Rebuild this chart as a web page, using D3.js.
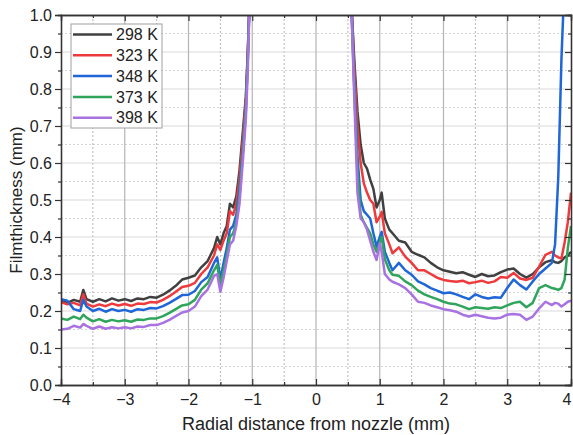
<!DOCTYPE html>
<html>
<head>
<meta charset="utf-8">
<script src="https://cdn.jsdelivr.net/npm/d3@7"></script>
<style>
  html, body { margin: 0; padding: 0; background: #fff; }
  svg { display: block; font-family: "Liberation Sans", Arial, sans-serif; }
  svg text { font-family: "Liberation Sans", Arial, sans-serif; }
</style>
</head>
<body>
<svg id="chart" width="573" height="435"></svg>
<script>
// ---------------- DATA ----------------
const seriesNames = ["298 K", "323 K", "348 K", "373 K", "398 K"];
const seriesColors = ["#404040", "#ee3a3c", "#1f66d8", "#2fa55c", "#a872e2"];

const xTicks = [-4, -3, -2, -1, 0, 1, 2, 3, 4];
const yTicks = [0.0, 0.1, 0.2, 0.3, 0.4, 0.5, 0.6, 0.7, 0.8, 0.9, 1.0];

// left branch (x < 0)
const xLeft = [-4.0,-3.9,-3.8,-3.7,-3.65,-3.6,-3.5,-3.4,-3.3,-3.2,-3.1,-3.0,-2.9,-2.8,-2.7,-2.6,-2.5,-2.4,-2.3,-2.2,-2.1,-2.0,-1.9,-1.8,-1.7,-1.6,-1.55,-1.5,-1.45,-1.4,-1.35,-1.3,-1.25,-1.2,-1.15,-1.1,-1.07,-1.04];
const k298Left = [0.228,0.222,0.230,0.225,0.257,0.232,0.225,0.232,0.226,0.234,0.228,0.232,0.227,0.234,0.232,0.238,0.236,0.244,0.255,0.268,0.285,0.290,0.296,0.318,0.335,0.37,0.40,0.38,0.41,0.43,0.49,0.48,0.51,0.58,0.68,0.78,0.9,1.05];
const k323Left = [0.224,0.218,0.222,0.215,0.245,0.220,0.212,0.218,0.213,0.220,0.215,0.219,0.214,0.220,0.219,0.224,0.223,0.230,0.240,0.252,0.265,0.268,0.276,0.300,0.318,0.35,0.38,0.365,0.39,0.41,0.47,0.46,0.49,0.56,0.66,0.77,0.9,1.05];
const k348Left = [0.232,0.228,0.205,0.200,0.230,0.212,0.200,0.206,0.198,0.205,0.200,0.203,0.198,0.205,0.203,0.208,0.207,0.213,0.222,0.232,0.243,0.244,0.254,0.278,0.292,0.33,0.345,0.285,0.33,0.37,0.42,0.43,0.46,0.53,0.63,0.75,0.88,1.05];
const k373Left = [0.180,0.176,0.185,0.178,0.190,0.182,0.172,0.178,0.171,0.176,0.172,0.175,0.171,0.177,0.176,0.180,0.180,0.186,0.195,0.205,0.215,0.218,0.230,0.258,0.275,0.31,0.325,0.27,0.31,0.35,0.40,0.41,0.44,0.51,0.62,0.74,0.88,1.05];
const k398Left = [0.150,0.152,0.160,0.155,0.165,0.160,0.152,0.158,0.152,0.156,0.153,0.156,0.153,0.158,0.157,0.162,0.162,0.168,0.176,0.186,0.196,0.200,0.212,0.240,0.258,0.295,0.30,0.252,0.29,0.335,0.38,0.39,0.43,0.49,0.60,0.72,0.85,1.05];

// right branch (x > 0)
const xRight = [0.55,0.6,0.65,0.7,0.75,0.8,0.85,0.9,0.95,1.0,1.03,1.08,1.15,1.2,1.3,1.4,1.5,1.6,1.7,1.8,1.9,2.0,2.1,2.2,2.3,2.4,2.5,2.6,2.7,2.8,2.9,3.0,3.1,3.2,3.3,3.4,3.5,3.6,3.7,3.75,3.8,3.85,3.9,3.95,4.0];
const k298Right = [1.05,0.88,0.74,0.65,0.60,0.585,0.555,0.53,0.48,0.50,0.52,0.45,0.42,0.41,0.39,0.385,0.36,0.352,0.345,0.33,0.318,0.31,0.306,0.302,0.305,0.298,0.292,0.300,0.294,0.296,0.305,0.312,0.315,0.300,0.29,0.30,0.318,0.332,0.337,0.332,0.33,0.335,0.345,0.35,0.36];
const k323Right = [1.05,0.86,0.70,0.60,0.545,0.52,0.50,0.49,0.44,0.455,0.468,0.41,0.38,0.356,0.372,0.347,0.33,0.31,0.31,0.30,0.29,0.284,0.281,0.279,0.282,0.275,0.278,0.282,0.276,0.28,0.292,0.29,0.303,0.288,0.284,0.29,0.32,0.352,0.36,0.35,0.345,0.342,0.385,0.44,0.52];
const k348Right = [1.05,0.82,0.62,0.50,0.47,0.46,0.45,0.41,0.374,0.40,0.414,0.36,0.33,0.31,0.33,0.31,0.298,0.28,0.272,0.262,0.255,0.248,0.25,0.245,0.238,0.232,0.245,0.238,0.234,0.237,0.236,0.262,0.285,0.27,0.258,0.28,0.30,0.315,0.33,0.38,0.56,0.88,1.1,1.2,1.3];
const k373Right = [1.05,0.80,0.58,0.46,0.44,0.425,0.41,0.38,0.36,0.385,0.40,0.34,0.31,0.298,0.295,0.28,0.27,0.255,0.245,0.238,0.232,0.225,0.22,0.218,0.212,0.205,0.21,0.208,0.206,0.21,0.208,0.215,0.222,0.225,0.21,0.222,0.262,0.27,0.262,0.26,0.257,0.262,0.285,0.37,0.43];
const k398Right = [1.05,0.78,0.52,0.45,0.44,0.42,0.39,0.36,0.338,0.383,0.36,0.30,0.285,0.279,0.272,0.262,0.245,0.225,0.222,0.215,0.21,0.205,0.202,0.198,0.19,0.185,0.19,0.186,0.182,0.18,0.182,0.19,0.192,0.19,0.176,0.185,0.207,0.225,0.216,0.222,0.22,0.212,0.218,0.225,0.228];

const leftValues = [k298Left, k323Left, k348Left, k373Left, k398Left];
const rightValues = [k298Right, k323Right, k348Right, k373Right, k398Right];

// ---------------- LAYOUT ----------------
const svg = d3.select("#chart");
const L = 61, R = 571, T = 15, B = 385;

const x = d3.scaleLinear().domain([-4, 4]).range([L, R]);
const y = d3.scaleLinear().domain([0, 1]).range([B, T]);

// grid
const g = svg.append("g");
const xMinor = d3.range(-3.5, 4, 1);
const yMinor = d3.range(0.05, 1, 0.1);

g.selectAll(".hminor").data(yMinor).join("line")
  .attr("x1", L).attr("x2", R).attr("y1", d => y(d)).attr("y2", d => y(d))
  .attr("stroke", "#d4d4d4").attr("stroke-width", 1).attr("stroke-dasharray", "2,2");
g.selectAll(".vminor").data(xMinor).join("line")
  .attr("y1", T).attr("y2", B).attr("x1", d => x(d)).attr("x2", d => x(d))
  .attr("stroke", "#b8b8b8").attr("stroke-width", 1).attr("stroke-dasharray", "2,2");
g.selectAll(".hmajor").data(yTicks.slice(1, -1)).join("line")
  .attr("x1", L).attr("x2", R).attr("y1", d => y(d)).attr("y2", d => y(d))
  .attr("stroke", "#dadada").attr("stroke-width", 1.2);
g.selectAll(".vmajor").data(xTicks.slice(1, -1)).join("line")
  .attr("y1", T).attr("y2", B).attr("x1", d => x(d)).attr("x2", d => x(d))
  .attr("stroke", "#b4b4b4").attr("stroke-width", 1.2);

// curves
svg.append("clipPath").attr("id", "clip")
  .append("rect").attr("x", L).attr("y", T).attr("width", R - L).attr("height", B - T);
const line = d3.line().x(d => x(d[0])).y(d => y(d[1]));
const cg = svg.append("g").attr("clip-path", "url(#clip)");
seriesNames.forEach((name, i) => {
  const left = xLeft.map((xv, j) => [xv, leftValues[i][j]]);
  const right = xRight.map((xv, j) => [xv, rightValues[i][j]]);
  [left, right].forEach(seg => {
    cg.append("path").datum(seg)
      .attr("d", line)
      .attr("fill", "none")
      .attr("stroke", seriesColors[i])
      .attr("stroke-width", 2.5)
      .attr("stroke-linejoin", "round");
  });
});

// axes
const fmtY = d3.format(".1f");
const fmtX = d => (d < 0 ? "\u2212" + Math.abs(d) : String(d));

const axL = svg.append("g").attr("transform", `translate(${L},0)`)
  .call(d3.axisLeft(y).tickValues(yTicks).tickFormat(fmtY).tickSize(6).tickPadding(3));
const axLm = svg.append("g").attr("transform", `translate(${L},0)`)
  .call(d3.axisLeft(y).tickValues(yMinor).tickFormat("").tickSize(3));
const axB = svg.append("g").attr("transform", `translate(0,${B})`)
  .call(d3.axisBottom(x).tickValues(xTicks).tickFormat(fmtX).tickSize(-6).tickPadding(9));
const axBm = svg.append("g").attr("transform", `translate(0,${B})`)
  .call(d3.axisBottom(x).tickValues(xMinor).tickFormat("").tickSize(-3));
const axT = svg.append("g").attr("transform", `translate(0,${T})`)
  .call(d3.axisTop(x).tickValues(xTicks).tickFormat("").tickSize(-6));
const axTm = svg.append("g").attr("transform", `translate(0,${T})`)
  .call(d3.axisTop(x).tickValues(xMinor).tickFormat("").tickSize(-3));
const axR = svg.append("g").attr("transform", `translate(${R},0)`)
  .call(d3.axisRight(y).tickValues(yTicks).tickFormat("").tickSize(-6));
const axRm = svg.append("g").attr("transform", `translate(${R},0)`)
  .call(d3.axisRight(y).tickValues(yMinor).tickFormat("").tickSize(-3));

[axL, axLm, axB, axBm, axT, axTm, axR, axRm].forEach(a => {
  a.selectAll(".tick line").attr("stroke", "#333").attr("stroke-width", 1.2);
  a.select(".domain").attr("stroke", "#333").attr("stroke-width", 1.3);
  a.selectAll("text").attr("font-size", 16).attr("fill", "#222")
    .attr("font-family", "'Liberation Sans', Arial, sans-serif");
});
// keep the last x label inside the window (it sits at the right border)
axB.selectAll(".tick text").filter(d => d === 4).attr("text-anchor", "end").attr("dx", 0);

// axis titles
svg.append("text")
  .attr("x", (L + R) / 2).attr("y", 430)
  .attr("text-anchor", "middle").attr("font-size", 18).attr("fill", "#222")
  .text("Radial distance from nozzle (mm)");
svg.append("text")
  .attr("transform", `translate(22,${(T + B) / 2}) rotate(-90)`)
  .attr("text-anchor", "middle").attr("font-size", 17).attr("fill", "#222")
  .text("Filmthickness (mm)");

// legend
const lg = svg.append("g");
lg.append("rect").attr("x", 71).attr("y", 24).attr("width", 91).attr("height", 104)
  .attr("fill", "#fff").attr("stroke", "#a0a0a0").attr("stroke-width", 1);
seriesNames.forEach((name, i) => {
  const cy = 34.5 + i * 20.8;
  lg.append("line").attr("x1", 73).attr("x2", 112).attr("y1", cy).attr("y2", cy)
    .attr("stroke", seriesColors[i]).attr("stroke-width", 2.5);
  lg.append("text").attr("x", 116).attr("y", cy + 5.6)
    .attr("font-size", 16).attr("fill", "#222").text(name);
});
</script>
</body>
</html>
